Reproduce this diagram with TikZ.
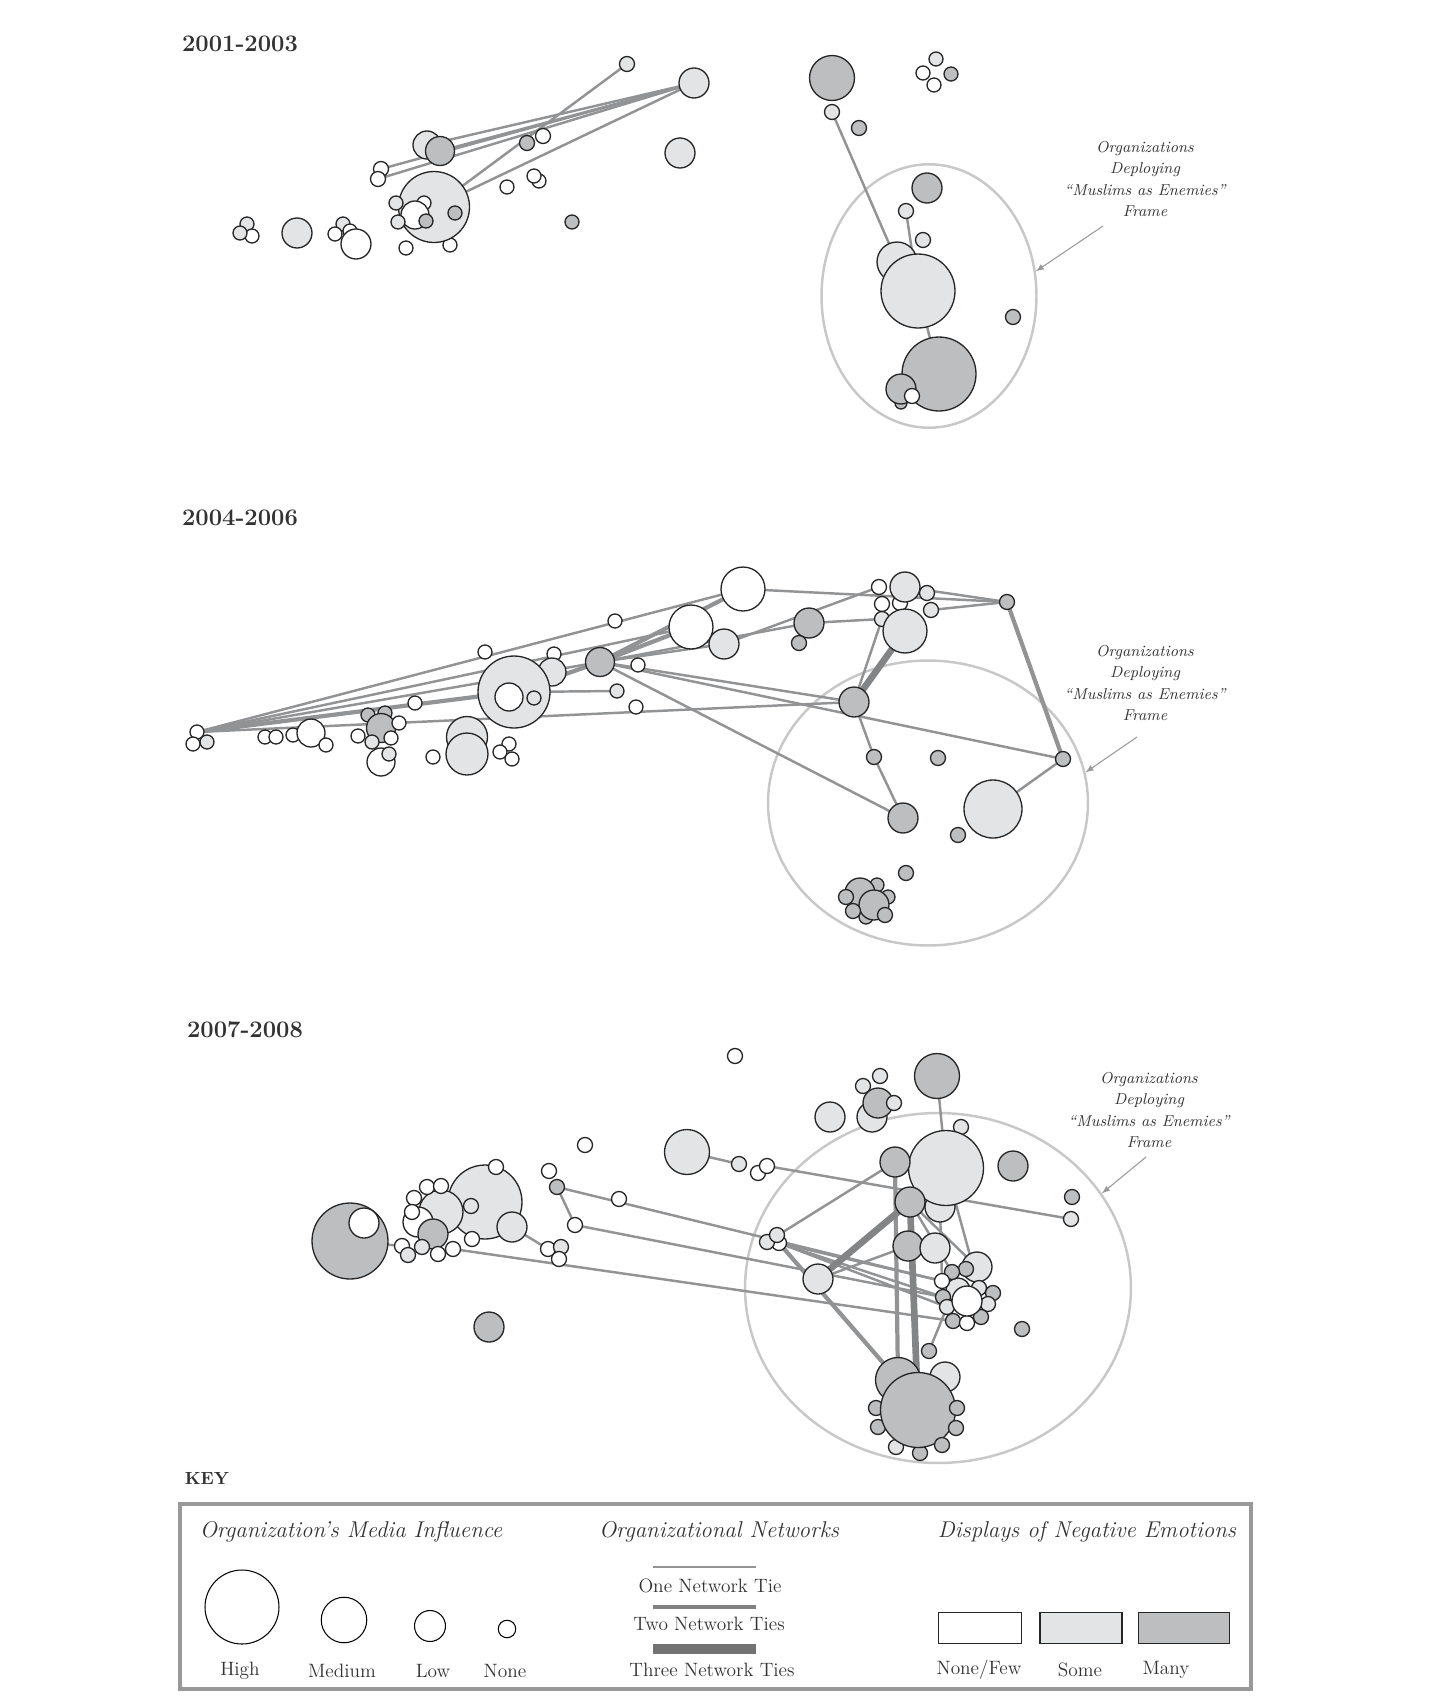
\documentclass[tikz,border=0pt]{standalone}
\usepackage{fontspec}
\usepackage{tikz}
\usetikzlibrary{arrows,shapes.geometric}
\definecolor{somegray}{RGB}{227,228,229}
\definecolor{manygray}{RGB}{189,190,192}
\definecolor{tiegray}{RGB}{146,147,149}
\definecolor{framegray}{RGB}{200,200,200}
\definecolor{inkgray}{RGB}{50,50,50}
\pgfdeclarelayer{bg}
\pgfsetlayers{bg,main}

\tikzset{
  org/.style={circle, draw=black!85, line width=0.75pt, inner sep=0pt, outer sep=0pt},
  nw/.style={fill=white},
  ns/.style={fill=somegray},
  nm/.style={fill=manygray},
  tieone/.style={draw=tiegray, line width=1.4pt},
  tietwo/.style={draw=tiegray, line width=2.4pt},
  tiethree/.style={draw=tiegray!90!black, line width=3.8pt},
  frameoval/.style={ellipse, draw=framegray, line width=1.4pt, inner sep=0pt},
  frametext/.style={align=center, font=\fontsize{9}{12}\selectfont\itshape, text=inkgray},
  pointer/.style={-latex, draw=black!40, line width=0.6pt},
  yearlabel/.style={font=\fontsize{13.5}{16}\selectfont\bfseries, text=inkgray},
  keyhead/.style={font=\fontsize{13}{15}\selectfont\itshape, text=inkgray},
  keytext/.style={font=\fontsize{11}{13}\selectfont, text=inkgray},
  keycircle/.style={circle, draw=black, line width=0.6pt, fill=white, inner sep=0pt},
  swatch/.style={rectangle, draw=black!85, line width=0.7pt, inner sep=0pt,
    minimum height=6.3mm},
}

\begin{document}
\begin{tikzpicture}[x=0.02cm, y=-0.02cm]
    \useasboundingbox (0,0) rectangle (1454,1698);

    % 2001-2003
    \node[yearlabel] (yearA) at (240,44) {2001-2003};
    \foreach \n/\x/\y/\r/\f in {a1/627/64/7.5/ns, a2/694/83/15/ns, a3/680/153/15/ns,
        a4/427/145/14/ns, a5/440/151/14.5/nm, a6/527/143/7.5/nm, a7/543/136/7.5/nw,
        a8/381/169/7.5/nw, a9/378/179/7.5/nw, a10/450/245/7/nw, a11/434/207/35.5/ns,
        a12/396/203/7/ns, a13/424/203/7/nw, a14/415/215/14/nw, a15/426/221/7/nm,
        a16/398/222/7/ns, a17/455/213/7/nm, a18/406/248/7/nw, a19/539/181/7/nw,
        a20/534/176/7/nw, a21/507/187/7/nw, a22/572/222/7/nm, a23/247/224/7/ns,
        a24/252/236/7/nw, a25/240/233/7/ns, a26/297/233/15/ns, a27/343/224/7/ns,
        a28/350/231/7/nw, a29/356/244/15/nw, a30/335/234/7/nw,
        b1/832/78/22.5/nm, b2/832/112/7.5/ns, b3/859/128/7.5/nm, b4/936/59/7/ns,
        b5/923/73/7/nw, b6/951/74/7/nm, b7/934/85/7/nw, b8/927/188/15/nm,
        b9/906/211/7.5/ns, b10/923/240/7.5/ns, b11/897/262/20/ns, b12/918/291/37/ns,
        b13/939/374/37/nm, b14/901/403/6/nm, b15/901/389/15/nm, b16/912/396/7.5/nw,
        b17/1013/317/7.5/nm}
        \node[org, \f, minimum size=\r*0.4mm] (\n) at (\x,\y) {};

    \node[frametext] (noteA) at (1145,179) {Organizations\\Deploying\\“Muslims as Enemies”\\Frame};
    \coordinate (tailA) at (1103,226);

    % 2004-2006
    \node[yearlabel] (yearB) at (240,518) {2004-2006};
    \foreach \n/\x/\y/\r/\f in {c1/197/732/7/nw, c2/193/744/7/nw, c3/207/742/7/ns,
        c4/265/737/7/nw, c5/276/737/7/nw, c6/293/735/7/nw, c7/311/733/14/nw,
        c8/326/745/7/nw, c9/368/715/7/nm, c10/385/713/7/nm, c11/381/728/14.5/nm,
        c12/399/723/7/nw, c13/358/736/7/nw, c14/372/742/7/ns, c15/391/738/7/nw,
        c16/381/762/14/nw, c17/389/754/7/ns, c18/415/703/7/nw, c19/433/757/7/nw,
        c20/467/737/20.5/ns, c21/467/754/21/ns, c22/509/744/7/nw, c23/500/752/7/nw,
        c24/512/759/7/nw, c25/485/652/7/nw, c26/554/654/7/nw, c27/552/672/14/ns,
        c28/514/692/36/ns, c29/509/697/14/nw, c30/534/698/7/ns, c31/600/662/14.5/nm,
        c32/638/665/7/nw, c33/617/691/7/ns, c34/636/707/7/nw, c35/615/621/7/nw,
        c36/691/627/22/nw, c37/724/644/15/ns, c38/743/589/22/nw, c39/809/623/15/nm,
        c40/799/643/7.5/nm, c41/879/587/7.5/nw, c42/900/603/7.5/nw, c43/882/604/7.5/nw,
        c44/905/587/15/ns, c45/927/593/7.5/ns, c46/931/610/7.5/ns, c47/882/619/7.5/ns,
        c48/905/631/22/ns, c49/1007/602/7.5/nm, c50/854/702/15/nm, c51/874/757/7.5/nm,
        c52/938/758/7.5/nm, c53/1063/759/7.5/nm, c54/993/809/29/ns, c55/903/818/15/nm,
        c56/958/835/7.5/nm, c57/906/873/7.5/nm, c62/866/917/7/nm, c58/877/885/7/nm,
        c59/888/897/7/nm, c60/860/893/15/nm, c61/846/897/7.5/nm, c63/874/905/15/nm,
        c64/853/911/7.5/nm, c65/885/915/7.5/nm}
        \node[org, \f, minimum size=\r*0.4mm] (\n) at (\x,\y) {};

    \node[frametext] (noteB) at (1145,683) {Organizations\\Deploying\\“Muslims as Enemies”\\Frame};
    \coordinate (tailB) at (1137,737);

    % 2007-2008
    \node[yearlabel] (yearC) at (245,1030) {2007-2008};
    \foreach \n/\x/\y/\r/\f in {d1/735/1056/7.5/nw, d2/585/1145/7.5/nw, d3/687/1152/22.5/ns,
        d4/739/1164/7.5/ns, d5/758/1173/7.5/nw, d6/767/1166/7.5/nw, d7/549/1171/7.5/nw,
        d8/557/1187/7.5/nm, d9/619/1199/7.5/nw, d10/575/1225/7.5/nw, d11/350/1241/38/nm,
        d12/364/1223/15/nw, d13/485/1202/37/ns, d14/496/1167/7.5/nw, d15/471/1206/7.5/ns,
        d16/512/1227/15/ns, d17/472/1239/7.5/nw, d18/441/1212/22/ns, d19/427/1187/7.5/nw,
        d20/441/1186/7.5/nw, d21/414/1198/7.5/nw, d22/418/1222/15/nw, d23/412/1212/7.5/nw,
        d24/433/1234/15/nm, d25/422/1247/7.5/ns, d26/402/1246/7.5/nw, d27/408/1255/7.5/ns,
        d28/438/1254/7.5/nw, d29/453/1249/7.5/nw, d30/548/1249/7.5/nw, d31/561/1247/7.5/ns,
        d32/559/1259/7.5/nw, d33/489/1327/15/nm,
        d34/937/1076/22.5/nm, d35/880/1076/7.5/ns, d36/863/1086/7.5/ns, d37/872/1117/15/ns,
        d38/878/1103/15/nm, d39/894/1103/7.5/ns, d40/830/1117/15/ns, d41/961/1127/7.5/ns,
        d42/940/1207/15/ns, d43/946/1168/37.5/ns, d44/895/1162/15/nm, d45/910/1202/15/nm,
        d46/1013/1166/15/nm, d47/1072/1197/7.5/nm, d48/1071/1219/7.5/ns,
        d51/779/1243/7.5/nw, d50/767/1242/7.5/ns, d49/777/1235/7.5/ns,
        d52/818/1279/15/ns, d53/908/1246/15/nm, d54/935/1248/15/ns, d55/977/1267/15/ns,
        d68/958/1290/12/ns, d56/966/1269/7.5/nm, d57/952/1272/7.5/nm, d58/942/1281/7.5/nw,
        d59/979/1288/7.5/ns, d60/993/1293/7.5/nm, d61/988/1304/7.5/ns, d62/943/1297/7.5/nm,
        d63/947/1307/7.5/ns, d64/953/1321/7.5/nm, d65/967/1323/7.5/nw, d66/981/1317/7.5/nm,
        d67/967/1301/15/nw, d69/1022/1329/7.5/nm, d70/929/1351/7.5/nm, d71/945/1377/15/ns,
        d72/898/1380/22.5/nm, d74/876/1408/7.5/nm, d76/878/1427/7.5/nm, d78/896/1447/7.5/ns,
        d80/920/1453/7.5/nm, d73/918/1410/37.5/nm, d75/957/1408/7.5/nm, d77/956/1428/7.5/nm,
        d79/942/1445/7.5/nm}
        \node[org, \f, minimum size=\r*0.4mm] (\n) at (\x,\y) {};

    \node[frametext] (noteC) at (1149,1110) {Organizations\\Deploying\\“Muslims as Enemies”\\Frame};
    \coordinate (tailC) at (1146,1157);

    % frames and network ties, behind the organizations
    \begin{pgfonlayer}{bg}
        \node[frameoval, minimum width=43mm, minimum height=52.7mm] (frameA) at (929,296) {};
        \node[frameoval, minimum width=64mm, minimum height=57mm] (frameB) at (928,803) {};
        \node[frameoval, minimum width=77.2mm, minimum height=70mm] (frameC) at (938,1288) {};

        \foreach \a/\b in {a2/a8, a2/a9, a2/a5, a2/a4, a2/a11, a1/a11, b2/b11, b9/b12, b12/b13,
            c1/c38, c1/c36, c1/c31, c1/c50, c28/c33, c31/c37, c31/c39, c31/c50, c31/c53,
            c31/c55, c37/c41, c39/c47, c38/c49, c44/c49, c46/c49, c53/c54, c50/c47,
            c50/c51, c51/c55,
            d3/d4, d6/d48, d8/d10, d8/d58, d10/d62, d29/d64, d16/d30, d11/d26, d34/d43,
            d44/d50, d51/d58, d51/d62, d51/d63, d52/d53, d45/d55, d45/d57, d43/d59,
            d42/d58, d63/d70}
            \draw[tieone] (\a.center) -- (\b.center);
        \foreach \a/\b in {c1/c28, c28/c31, c31/c36, c31/c38, c49/c53, d51/d72, d44/d72}
            \draw[tietwo] (\a.center) -- (\b.center);
        \foreach \a/\b in {c50/c48, d52/d45, d45/d73}
            \draw[tiethree] (\a.center) -- (\b.center);
    \end{pgfonlayer}

    \draw[pointer] (tailA) -- (frameA.13);
    \draw[pointer] (tailB) -- (frameB.11);
    \draw[pointer] (tailC) -- (frameC.30);

    % key
    \node[font=\fontsize{10}{12}\selectfont\bfseries, text=inkgray] (keyTitle) at (207,1478) {KEY};
    \draw[draw=black!40, line width=2pt] (180,1504) rectangle (1251,1689);

    \node[keyhead] (headSize) at (351,1532) {Organization’s Media Influence};
    \node[keyhead] (headTies) at (719,1532) {Organizational Networks};
    \node[keyhead] (headFill) at (1087,1532) {Displays of Negative Emotions};

    \node[keycircle, minimum size=14.8mm] (high) at (242,1607) {};
    \node[keycircle, minimum size=9.1mm] (medium) at (344,1620) {};
    \node[keycircle, minimum size=6.2mm] (low) at (430,1626) {};
    \node[keycircle, minimum size=3.5mm] (none) at (507,1629) {};
    \node[keytext] (highText) at (240,1671) {High};
    \node[keytext] (mediumText) at (342,1671) {Medium};
    \node[keytext] (lowText) at (433,1671) {Low};
    \node[keytext] (noneText) at (505,1671) {None};

    \coordinate (oneL) at (653,1567);   \coordinate (oneR) at (756,1567);
    \coordinate (twoL) at (653,1607);   \coordinate (twoR) at (756,1607);
    \coordinate (threeL) at (653,1649); \coordinate (threeR) at (756,1649);
    \draw[tieone] (oneL) -- (oneR);
    \draw[tietwo, draw=black!50] (twoL) -- (twoR);
    \draw[draw=black!55, line width=5.7pt] (threeL) -- (threeR);
    \node[keytext] (oneText) at (710,1586) {One Network Tie};
    \node[keytext] (twoText) at (709,1624) {Two Network Ties};
    \node[keytext] (threeText) at (712,1670) {Three Network Ties};

    \node[swatch, nw, minimum width=16.6mm] (fewBox) at (980,1628) {};
    \node[swatch, ns, minimum width=16.4mm] (someBox) at (1081,1628) {};
    \node[swatch, nm, minimum width=18.2mm] (manyBox) at (1184,1628) {};
    \node[keytext] (fewText) at (979,1670) {None/Few};
    \node[keytext] (someText) at (1080,1670) {Some};
    \node[keytext] (manyText) at (1166,1670) {Many};
\end{tikzpicture}
\end{document}
